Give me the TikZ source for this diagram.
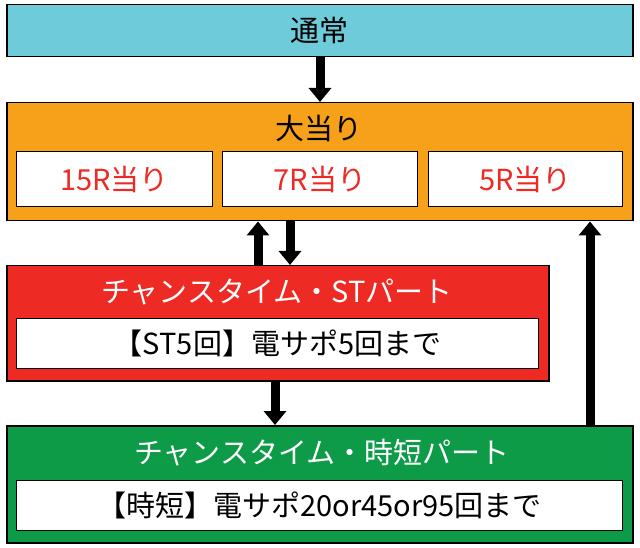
\documentclass[tikz,border=0pt]{standalone}
\usepackage{fontspec}
\setmainfont{Noto Sans CJK JP}
\usetikzlibrary{arrows.meta}
\definecolor{tsujo}{HTML}{6ECCDA}
\definecolor{oatari}{HTML}{F7A11A}
\definecolor{stred}{HTML}{EE2A24}
\definecolor{jitan}{HTML}{0D9B48}
\tikzset{
  band/.style={draw=black,line width=1.5pt,anchor=north west,inner sep=0pt},
  inbox/.style={draw=black,line width=1pt,fill=white,anchor=north west,inner sep=0pt,font=\fontsize{29pt}{32pt}\selectfont},
  ttl/.style={font=\fontsize{29pt}{32pt}\selectfont},
  flow/.style={line width=9pt,-{Triangle[width=22pt,length=14pt]}}
}
\begin{document}
\begin{tikzpicture}[x=1pt,y=-1pt]
    \useasboundingbox (0,0) rectangle (640,548);

    % top
    \node[band,fill=tsujo,minimum width=626pt,minimum height=52pt] (normal) at (6,4) {};
    \node[ttl] at (normal.center) {通常};

    % big hit
    \node[band,fill=oatari,minimum width=626pt,minimum height=118pt] (hit) at (6,102) {};
    \node[ttl] at (319,128) {大当り};
    \node[inbox,text=stred,minimum width=196pt,minimum height=55pt] (r15) at (16,151) {15R当り};
    \node[inbox,text=stred,minimum width=195pt,minimum height=55pt] (r7) at (222,151) {7R当り};
    \node[inbox,text=stred,minimum width=194pt,minimum height=55pt] (r5) at (428,151) {5R当り};

    % ST part
    \node[band,fill=stred,minimum width=542pt,minimum height=115pt] (st) at (6,265) {};
    \node[ttl,text=white] at (277,292) {チャンスタイム・STパート};
    \node[inbox,minimum width=522pt,minimum height=50pt] (stin) at (16,318) {【ST5回】電サポ5回まで\hspace{90pt}};

    % jitan part
    \node[band,fill=jitan,minimum width=626pt,minimum height=117pt] (jt) at (6,425) {};
    \node[ttl,text=white] at (322,453) {チャンスタイム・時短パート};
    \node[inbox,minimum width=606pt,minimum height=50pt] (jtin) at (16,480) {【時短】電サポ20or45or95回まで\hspace{50pt}};

    % arrows
    \draw[flow] (normal.south -| 320,0) -- (hit.north -| 320,0);
    \draw[flow] (st.north -| 258,0) -- (hit.south -| 258,0);
    \draw[flow] (hit.south -| 290,0) -- (st.north -| 290,0);
    \draw[flow] (st.south -| 275,0) -- (jt.north -| 275,0);
    \draw[flow] (jt.north -| 590,0) -- (hit.south -| 590,0);
\end{tikzpicture}
\end{document}
